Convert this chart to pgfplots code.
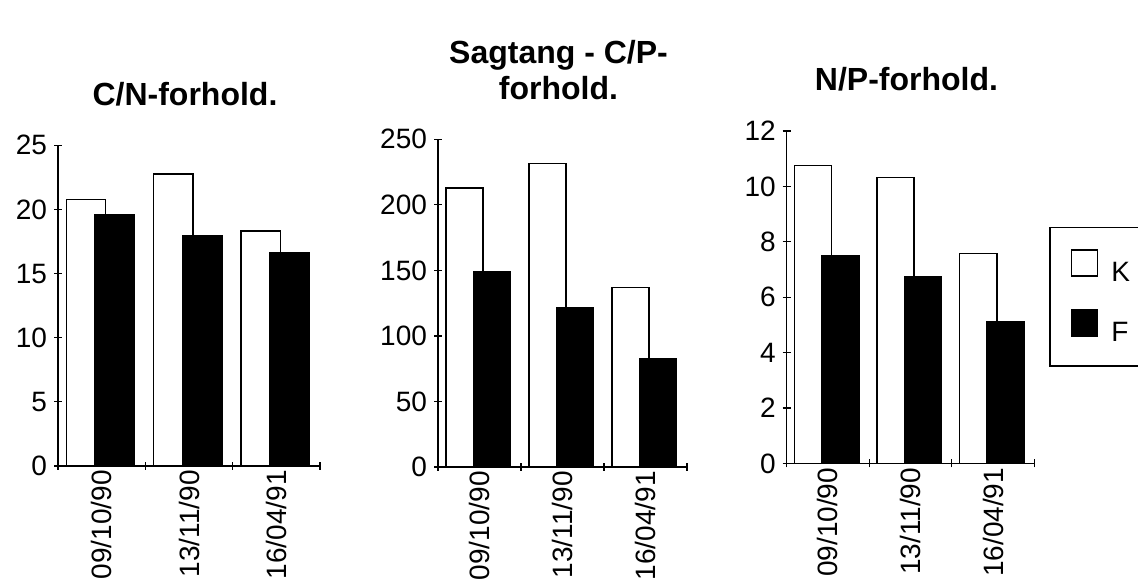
\documentclass[border=0pt]{standalone}
\usepackage{fontspec}
\setmainfont{Liberation Sans}
\usepackage{pgfplots}
\pgfplotsset{compat=1.18}
\pgfplotsset{
  panel/.style={
    scale only axis,
    anchor=south west,
    axis lines=left,
    axis line style={-, line width=0.7pt},
    xmin=-0.5, xmax=2.5, ymin=0,
    xtick={-0.5,0.5,1.5,2.5},
    x tick label as interval,
    xticklabels={09/10/90,13/11/90,16/04/91},
    xticklabel style={rotate=90, anchor=east, inner sep=0pt, font=\fontsize{14}{16}\selectfont},
    yticklabel style={font=\fontsize{14}{16}\selectfont},
    /pgf/number format/assume math mode=true,
    tick align=center,
    major tick length=4pt,
    tick style={black, line width=0.6pt},
    title style={at={(0.5,1)}, anchor=south, inner sep=0pt, yshift=13.5pt, xshift=-2pt,
      align=center, font=\bfseries\fontsize{16}{18}\selectfont},
    clip=false,
  },
  kbar/.style={ybar, bar width=0.45, bar shift=-0.18, draw=black, fill=white, line width=0.75pt},
  fbar/.style={ybar, bar width=0.45, bar shift=0.15, draw=black, fill=black, line width=0.75pt},
}
\begin{document}
\begin{tikzpicture}
\path[use as bounding box] (0,0) rectangle (569pt,290.5pt);

\begin{axis}[panel, at={(29pt,57.5pt)}, width=131pt, height=160.35pt,
  ymax=25, ytick={0,5,10,15,20,25}, title={C/N-forhold.}]
\addplot[kbar] coordinates {(0,20.78) (1,22.75) (2,18.31)};
\addplot[fbar] coordinates {(0,19.58) (1,17.95) (2,16.66)};
\end{axis}

\begin{axis}[panel, at={(219pt,57pt)}, width=124.5pt, height=163.85pt,
  ymax=250, ytick={0,50,100,150,200,250}, title={Sagtang - C/P-\\forhold.}]
\addplot[kbar] coordinates {(0,212.9) (1,231.4) (2,137.0)};
\addplot[fbar] coordinates {(0,148.7) (1,121.5) (2,82.2)};
\end{axis}

\begin{axis}[panel, at={(393.35pt,58.75pt)}, width=123.8pt, height=166.25pt,
  ymax=12, ytick={0,2,4,6,8,10,12}, title={N/P-forhold.},
  legend image code/.code={\draw[#1, line width=0.75pt] (0pt,-1.5pt) rectangle (13pt,11.5pt);},
  legend style={at={(1.0594,0.7124)}, anchor=north west, draw=black, line width=0.75pt,
    inner xsep=10.5pt, inner ysep=11pt, row sep=12.5pt, column sep=6.5pt,
    nodes={inner sep=0pt}, font=\fontsize{14}{16}\selectfont},
  legend cell align=left]
\addplot[kbar] coordinates {(0,10.76) (1,10.32) (2,7.57)};
\addplot[fbar] coordinates {(0,7.49) (1,6.74) (2,5.11)};
\legend{K,F}
\end{axis}
\end{tikzpicture}
\end{document}
